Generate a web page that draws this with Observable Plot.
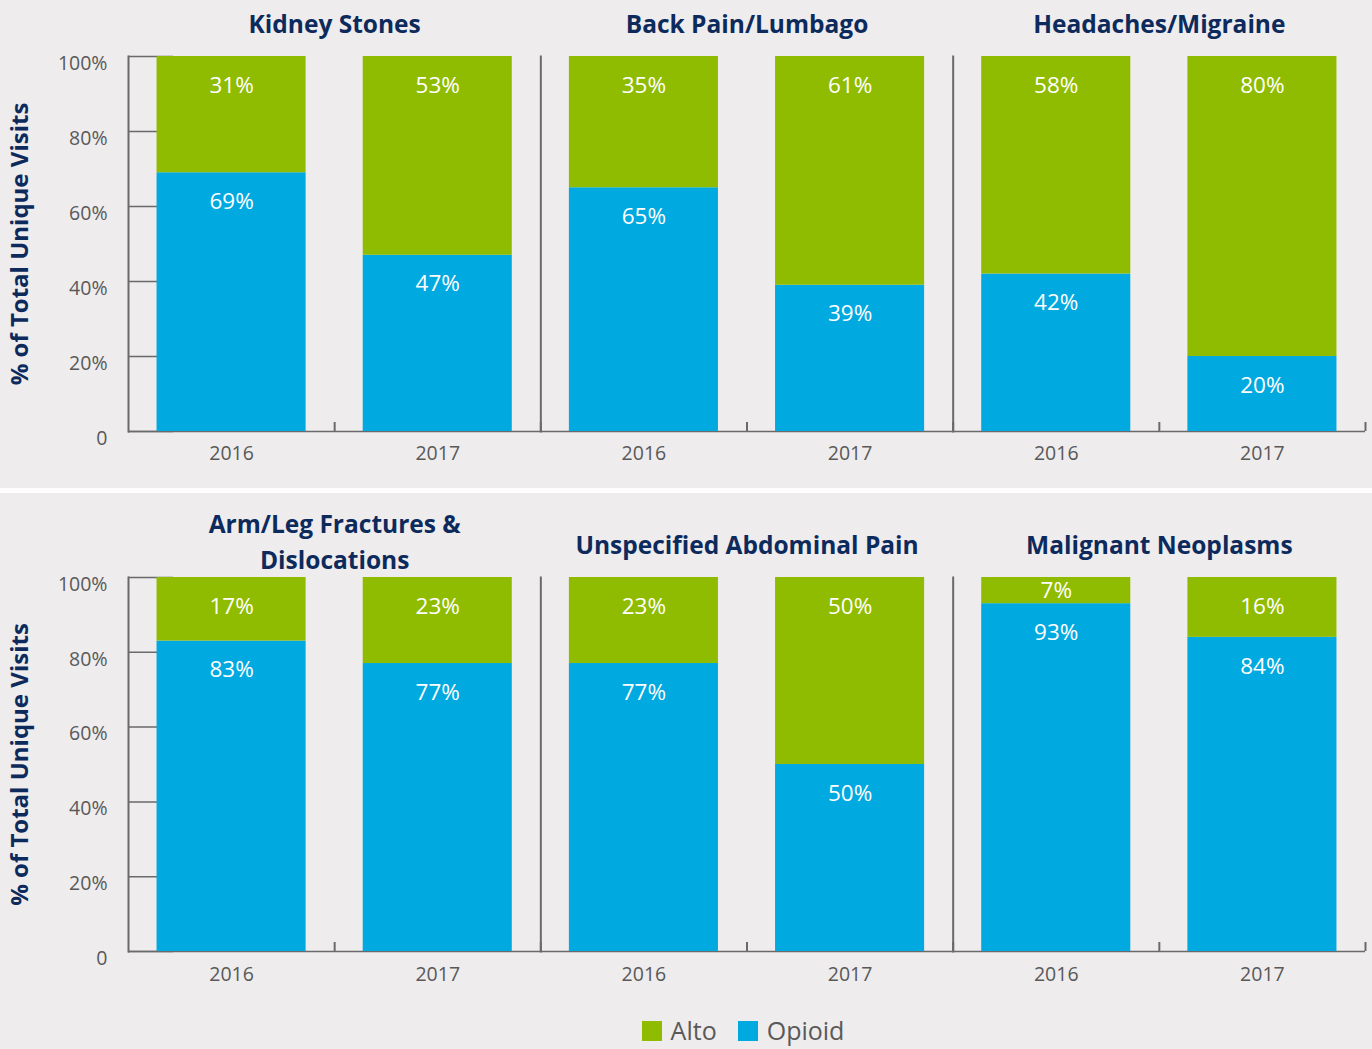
<!DOCTYPE html>
<html>
<head>
<meta charset="utf-8">
<script src="https://cdn.jsdelivr.net/npm/d3@7"></script>
<script src="https://cdn.jsdelivr.net/npm/@observablehq/plot@0.6"></script>
<style>
  html, body { margin: 0; padding: 0; background: #eeeced; }
  body { width: 1372px; font-family: "Open Sans", sans-serif; }
  .sep { height: 5px; background: #ffffff; }
  .legend { height: 58px; box-sizing: border-box; padding-top: 23px; padding-left: 114px; padding-right: 0px;
            display: flex; justify-content: center; align-items: center; gap: 21px; }
  .legend .item { display: flex; align-items: center; gap: 9px; font-size: 25px; color: #595959; line-height: 25px; }
  .legend .sw { width: 20px; height: 20px; display: inline-block; }
</style>
</head>
<body>
<div id="top"></div>
<div class="sep"></div>
<div id="bottom"></div>
<div class="legend" id="legend"></div>
<script>
// ---- data ----
const years = ["2016", "2017"];
const seriesNames = ["Alto", "Opioid"];
const groupsTop = ["Kidney Stones", "Back Pain/Lumbago", "Headaches/Migraine"];
const altoTop = [31, 53, 35, 61, 58, 80];
const opioidTop = [69, 47, 65, 39, 42, 20];
const groupsBottom = ["Arm/Leg Fractures &\nDislocations", "Unspecified Abdominal Pain", "Malignant Neoplasms"];
const altoBottom = [17, 23, 23, 50, 7, 16];
const opioidBottom = [83, 77, 77, 50, 93, 84];
const yTicks = [0, 20, 40, 60, 80, 100];
const yTitle = "% of Total Unique Visits";

// ---- style ----
const GREEN = "#8fbc00", BLUE = "#00a9e0", NAVY = "#0d2a5c", GRAY = "#595959", LINE = "#6a6a6a";
const W = 1372, ML = 128, MR = 7;
const facetW = (W - ML - MR) / 3;
const step = facetW / 2;

function chart(groups, alto, opioid, {height, marginTop, marginBottom, titleDy, titleDy2, xPad}) {
  const rows = groups.flatMap((g, gi) => years.flatMap((yr, yi) => [
    {group: g, year: yr, series: "Opioid", value: opioid[gi * 2 + yi]},
    {group: g, year: yr, series: "Alto", value: alto[gi * 2 + yi]}
  ]));
  const order = ["Opioid", "Alto"];
  const first = groups[0];
  const titleStyle = {fx: d => d, frameAnchor: "top", lineAnchor: "middle",
    lineHeight: 1.45, fontSize: 24.5, fontWeight: 700, fill: NAVY};
  return Plot.plot({
    width: W, height, marginLeft: ML, marginRight: MR, marginTop, marginBottom,
    style: {background: "transparent", fontFamily: "Open Sans", overflow: "visible"},
    fx: {domain: groups, padding: 0, axis: null, round: false},
    x: {domain: years, paddingInner: 0.277, paddingOuter: 0.1385, round: false},
    y: {domain: [0, 100], label: null},
    color: {domain: seriesNames, range: [GREEN, BLUE]},
    marks: [
      Plot.frame({anchor: "left", stroke: LINE, strokeWidth: 2}),
      Plot.ruleY([0], {stroke: LINE, strokeWidth: 1.5}),
      Plot.ruleY(yTicks, {y: d => d, fx: () => first, stroke: LINE, strokeWidth: 1.5, insetRight: facetW - 45}),
      Plot.ruleX(years, {x: d => d, dx: step / 2, y1: 0, y2: 0, insetTop: -9, stroke: LINE, strokeWidth: 2}),
      Plot.barY(rows, {fx: "group", x: "year", y: "value", fill: "series", z: "series", order}),
      Plot.text(rows, Plot.stackY2({fx: "group", x: "year", y: "value", z: "series", order,
        text: d => d.value >= 12 ? d.value + "%" : "", dy: 29, fill: "white", fontSize: 22.5})),
      Plot.text(rows, Plot.stackY({fx: "group", x: "year", y: "value", z: "series", order,
        text: d => d.value < 12 ? d.value + "%" : "", fill: "white", fontSize: 22.5})),
      Plot.axisY({ticks: yTicks, tickFormat: d => d === 0 ? "0" : d + "%", tickSize: 0, tickPadding: 21,
        dy: 7, fontSize: 19.5, fill: GRAY, label: null}),
      Plot.axisX({tickSize: 0, tickPadding: xPad, fontSize: 19.5, fill: GRAY, label: null}),
      Plot.text(groups, {...titleStyle, text: d => d.includes("\n") ? "" : d, dy: titleDy}),
      Plot.text(groups, {...titleStyle, text: d => d.includes("\n") ? d : "", dy: titleDy2}),
      Plot.text([yTitle], {fx: () => first, text: d => d, frameAnchor: "left", dx: -108, rotate: -90,
        textAnchor: "middle", fontSize: 24, fontWeight: 700, fill: NAVY})
    ]
  });
}

document.getElementById("top").appendChild(
  chart(groupsTop, altoTop, opioidTop, {height: 488, marginTop: 56, marginBottom: 57, titleDy: -35, titleDy2: -38, xPad: 15}));
document.getElementById("bottom").appendChild(
  chart(groupsBottom, altoBottom, opioidBottom, {height: 497, marginTop: 84, marginBottom: 39, titleDy: -35, titleDy2: -38, xPad: 16}));

const legend = document.getElementById("legend");
const colors = {Alto: GREEN, Opioid: BLUE};
for (const s of seriesNames) {
  const item = document.createElement("div");
  item.className = "item";
  const sw = document.createElement("span");
  sw.className = "sw";
  sw.style.background = colors[s];
  const t = document.createElement("span");
  t.textContent = s;
  item.appendChild(sw); item.appendChild(t);
  legend.appendChild(item);
}
</script>
</body>
</html>
